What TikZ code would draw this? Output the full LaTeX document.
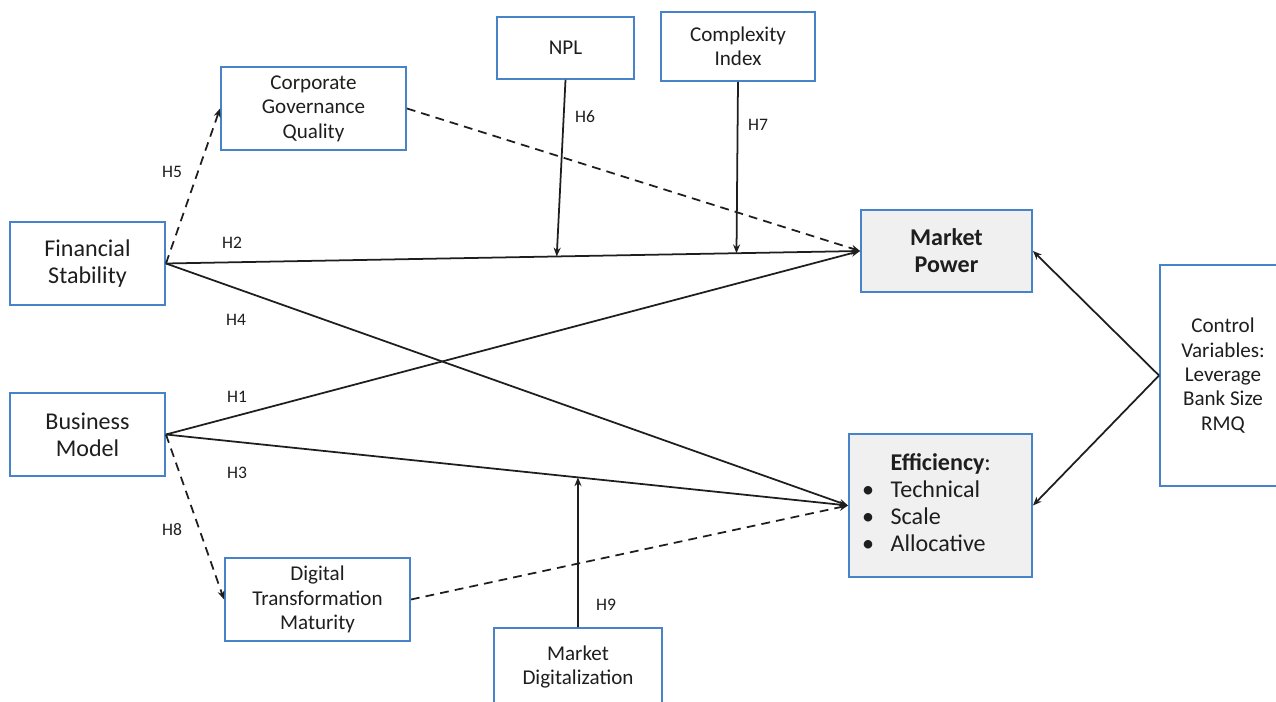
\documentclass[tikz,border=0pt]{standalone}
\usepackage{fontspec}
\setmainfont{Carlito}
\usepackage{xcolor}
\usepackage{tikz}
\usetikzlibrary{arrows.meta,positioning,calc}

\definecolor{boxblue}{RGB}{72,130,200}
\definecolor{boxgray}{RGB}{240,240,240}
\definecolor{linegray}{RGB}{30,30,30}

\tikzset{
    varbox/.style={draw=boxblue, line width=1.1pt, align=center, inner sep=0pt,
        font=\fontsize{12}{13.9}\selectfont, text=linegray},
    bigbox/.style={varbox, font=\fontsize{13.7}{15.3}\selectfont},
    outbox/.style={bigbox, fill=boxgray},
    link/.style={draw=linegray, line width=1pt, -{Stealth[length=5pt,width=4pt]}},
    dlink/.style={link, dashed, dash pattern=on 5pt off 3.5pt},
    hyp/.style={font=\fontsize{10}{12}\selectfont, text=linegray, inner sep=1pt}
}

\begin{document}
\begin{tikzpicture}[x=0.02cm, y=-0.02cm]
    \clip (0,0) rectangle (1276,702);

    % Independent variables
    \node[bigbox, minimum width=155*0.02cm, minimum height=83*0.02cm] (fs) at (87.5,263.5) {Financial\\Stability};
    \node[bigbox, minimum width=155*0.02cm, minimum height=83*0.02cm] (bm) at (87.5,434.5) {Business\\Model};

    % Mediators
    \node[varbox, minimum width=185*0.02cm, minimum height=83*0.02cm] (cgq) at (313.5,108.5) {Corporate\\Governance\\Quality};
    \node[varbox, minimum width=185*0.02cm, minimum height=83*0.02cm] (dtm) at (317.5,599.5) {Digital\\Transformation\\Maturity};

    % Moderators
    \node[varbox, minimum width=137*0.02cm, minimum height=62*0.02cm] (npl) at (565.5,48) {NPL};
    \node[varbox, minimum width=154*0.02cm, minimum height=69*0.02cm] (cix) at (738,46.5) {Complexity\\Index};
    \node[varbox, minimum width=168*0.02cm, minimum height=78*0.02cm] (mdg) at (578,667) {Market\\Digitalization};

    % Dependent variables
    \node[outbox, font=\bfseries\fontsize{13.7}{15.3}\selectfont, minimum width=171*0.02cm, minimum height=82*0.02cm] (mp) at (946.5,251) {Market\\Power};
    \node[outbox, align=left, text width=157*0.02cm, minimum width=183*0.02cm, minimum height=143*0.02cm] (eff) at (940.5,505.5) {%
        \begin{tabular}{@{}l@{\hspace{9.5pt}}l@{}}
            & \textbf{Efficiency}: \\
            \textbullet & Technical \\
            \textbullet & Scale \\
            \textbullet & Allocative
        \end{tabular}};

    % Controls
    \node[varbox, minimum width=126*0.02cm, minimum height=221*0.02cm] (ctl) at (1223,375.5) {Control\\Variables:\\Leverage\\Bank Size\\RMQ};

    % Direct paths
    \draw[link] (fs.east) -- (mp.west);
    \draw[link] (fs.east) -- (eff.west);
    \draw[link] (bm.east) -- (mp.west);
    \draw[link] (bm.east) -- (eff.west);

    % Mediated paths
    \draw[dlink] (fs.east) -- (cgq.west);
    \draw[dlink] (cgq.east) -- (mp.west);
    \draw[dlink] (bm.east) -- (dtm.west);
    \draw[dlink] (dtm.east) -- (eff.west);

    % Moderating paths
    \coordinate (nplhit) at ($(fs.east)!0.563!(mp.west)$);
    \coordinate (cixhit) at ($(fs.east)!0.822!(mp.west)$);
    \coordinate (mdghit) at ($(bm.east)!0.604!(eff.west)$);
    \draw[link] (npl.south) -- (nplhit);
    \draw[link] (cix.south) -- (cixhit);
    \draw[link] (mdg.north) -- (mdghit);

    % Control paths
    \draw[link] (ctl.west) -- (mp.east);
    \draw[link] (ctl.west) -- (eff.east);

    % Hypothesis labels
    \node[hyp] (h1) at (237,397) {H1};
    \node[hyp] (h2) at (232,243) {H2};
    \node[hyp] (h3) at (237,473) {H3};
    \node[hyp] (h4) at (236,320) {H4};
    \node[hyp] (h5) at (172,172) {H5};
    \node[hyp] (h6) at (585,117) {H6};
    \node[hyp] (h7) at (758,125) {H7};
    \node[hyp] (h8) at (172,530) {H8};
    \node[hyp] (h9) at (606,605) {H9};
\end{tikzpicture}
\end{document}
